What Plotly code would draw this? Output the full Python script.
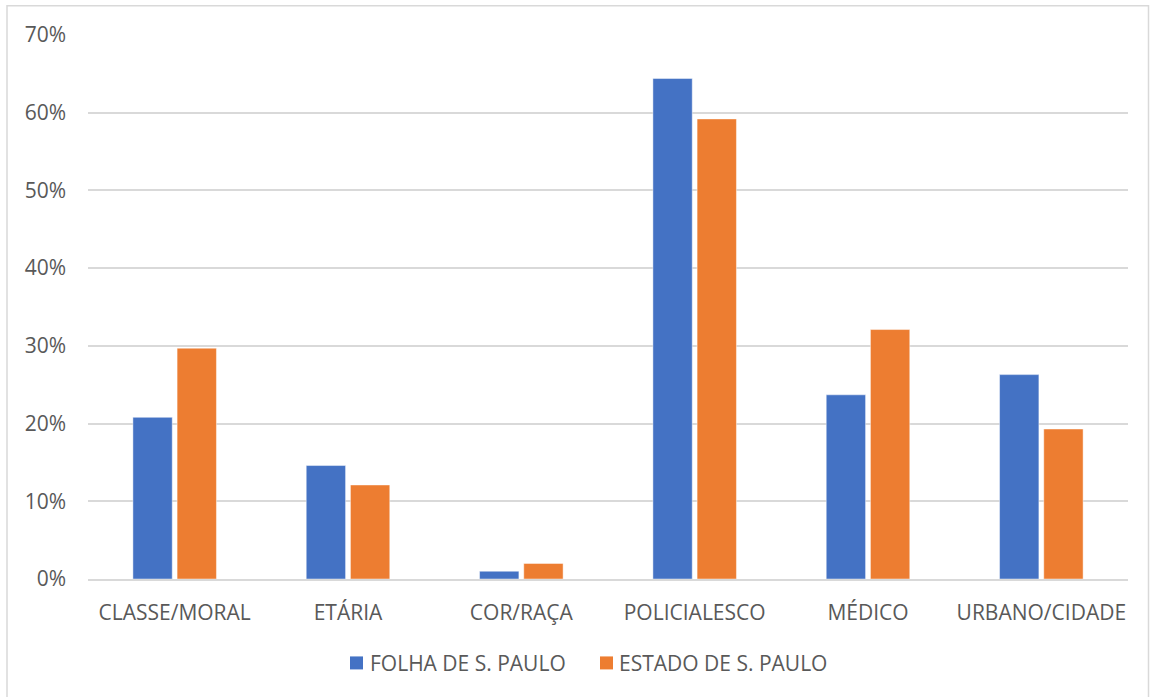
import plotly.graph_objects as go

categories = ["CLASSE/MORAL", "ETÁRIA", "COR/RAÇA", "POLICIALESCO", "MÉDICO", "URBANO/CIDADE"]
folha = [0.208, 0.146, 0.010, 0.644, 0.237, 0.263]
estado = [0.297, 0.121, 0.020, 0.592, 0.321, 0.193]
series_names = ["FOLHA DE S. PAULO", "ESTADO DE S. PAULO"]
series_colors = ["#4472C4", "#ED7D31"]
y_ticks = [0, 0.1, 0.2, 0.3, 0.4, 0.5, 0.6, 0.7]
y_tick_labels = ["0%", "10%", "20%", "30%", "40%", "50%", "60%", "70%"]

W, H = 1150, 697
L, R, T, B = 88, 22, 35, 117.5
pw, ph = W - L - R, H - T - B

def px_x(x):
    return (x - L) / pw

def px_y(y):
    return (H - B - y) / ph

text_color = "#595959"
font_family = "Open Sans, Noto Sans, DejaVu Sans, sans-serif"
fsize = 21

fig = go.Figure()
for name, vals, col in zip(series_names, [folha, estado], series_colors):
    fig.add_trace(go.Bar(
        x=categories, y=vals, name=name,
        marker=dict(color=col, line=dict(color="rgba(255,255,255,0.45)", width=1)),
    ))

# Legend drawn as small squares with labels underneath the plot
legend_items = [(350, 368), (600, 617)]
shapes = [dict(
    type="rect", xref="paper", yref="paper",
    x0=px_x(7), x1=px_x(1148.5), y0=px_y(705), y1=px_y(5.7),
    line=dict(color="#D9D9D9", width=1.5), fillcolor="rgba(0,0,0,0)", layer="below",
)]
annotations = []
for (sq_x, tx_x), name, col in zip(legend_items, series_names, series_colors):
    shapes.append(dict(
        type="rect", xref="paper", yref="paper",
        x0=px_x(sq_x), x1=px_x(sq_x + 13), y0=px_y(670), y1=px_y(657),
        line=dict(width=0), fillcolor=col,
    ))
    annotations.append(dict(
        xref="paper", yref="paper", x=px_x(tx_x), y=px_y(664),
        xanchor="left", yanchor="middle", showarrow=False, text=name,
        font=dict(size=fsize, color=text_color, family=font_family),
    ))

fig.update_layout(
    width=W, height=H,
    margin=dict(l=L, r=R, t=T, b=B),
    paper_bgcolor="white", plot_bgcolor="white",
    barmode="group", bargap=0.49, bargroupgap=0.11,
    font=dict(family=font_family, size=fsize, color=text_color),
    showlegend=False,
    xaxis=dict(
        showgrid=False, showline=True, linecolor="#D9D9D9", linewidth=1.5,
        ticks="", ticklabelstandoff=14, tickfont=dict(size=fsize, color=text_color),
    ),
    yaxis=dict(
        range=[0, 0.7], tickvals=y_ticks, ticktext=y_tick_labels,
        showgrid=True, gridcolor="#D9D9D9", gridwidth=1.5,
        zeroline=False, showline=False, ticks="",
        ticklabelstandoff=21, tickfont=dict(size=fsize, color=text_color),
    ),
    shapes=shapes,
    annotations=annotations,
)

fig.write_html("out.html")
